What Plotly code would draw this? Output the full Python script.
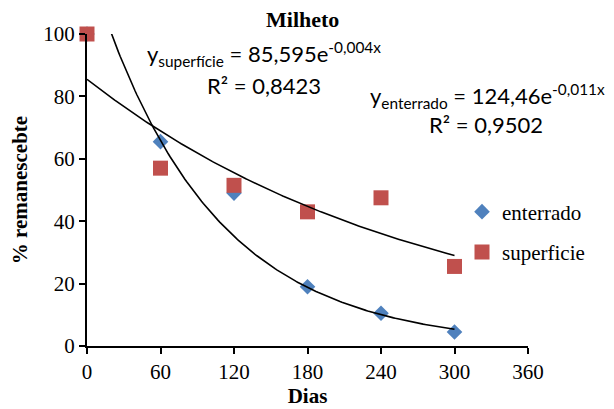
import numpy as np
import plotly.graph_objects as go

dias = [0, 60, 120, 180, 240, 300]
enterrado = [100, 65.5, 49, 19, 10.5, 4.5]
superficie = [100, 57, 51.5, 43, 47.5, 25.5]
x_ticks = [0, 60, 120, 180, 240, 300, 360]
y_ticks = [0, 20, 40, 60, 80, 100]

BLUE = "#4F81BD"
RED = "#C0504D"
SERIF = "Liberation Serif"
EQF = "Lato"


def exp_fit(x, y):
    b, a = np.polyfit(np.array(x, float), np.log(np.array(y, float)), 1)
    return np.exp(a), b


xs = np.linspace(0, 300, 200)
fig = go.Figure()
fig.add_trace(go.Scatter(x=dias, y=enterrado, mode="markers", name="enterrado",
                         marker=dict(symbol="diamond", size=12, color=BLUE),
                         cliponaxis=False, legendgroup="a"))
fig.add_trace(go.Scatter(x=dias, y=superficie, mode="markers", name="superficie",
                         marker=dict(symbol="square", size=15, color=RED),
                         cliponaxis=False, legendgroup="b"))
for ser in (enterrado, superficie):
    a, b = exp_fit(dias, ser)
    fig.add_trace(go.Scatter(x=xs, y=a * np.exp(b * xs), mode="lines",
                             line=dict(color="black", width=1.6),
                             showlegend=False, hoverinfo="skip"))

# page body has an 8px margin; figure is sized to fit the 614x409 window
OFF = 8
FW, FH = 614 - OFF, 409 - OFF
L, T, W, H = 87 - OFF, 34 - OFF, 441, 312


def px(x):
    return (x - OFF - L) / W


def py(y):
    return (T + H - (y - OFF)) / H


ann = [
    ("<b>Milheto</b>", 302, 20, SERIF, 22),
    ("y<sub>superfície</sub> = 85,595e<sup>-0,004x</sup>", 264, 54, EQF, 22),
    ("R² = 0,8423", 264, 85, EQF, 22),
    ("y<sub>enterrado</sub> = 124,46e<sup>-0,011x</sup>", 487, 96, EQF, 22),
    ("R² = 0,9502", 486, 125, EQF, 22),
]
for text, x, y, f, s in ann:
    fig.add_annotation(text=text, x=px(x), y=py(y), xref="paper", yref="paper",
                       showarrow=False, xanchor="center", yanchor="middle",
                       font=dict(family=f, size=s, color="black"))

axis_common = dict(showgrid=False, zeroline=False, showline=True, linecolor="black",
                   linewidth=2, ticks="outside", ticklen=6, tickwidth=2, tickcolor="black",
                   automargin=False,
                   tickfont=dict(family=SERIF, size=21, color="black"))
fig.update_xaxes(range=[0, 360], tickvals=x_ticks, **axis_common,
                 title=dict(text="<b>Dias</b>", font=dict(family=SERIF, size=21, color="black"),
                            standoff=0))
fig.update_yaxes(range=[0, 100], tickvals=y_ticks, **axis_common,
                 title=dict(text="<b>% remanescebte</b>",
                            font=dict(family=SERIF, size=21, color="black"), standoff=13))

fig.update_layout(
    width=FW, height=FH,
    margin=dict(l=L, r=FW - L - W, t=T, b=FH - T - H),
    plot_bgcolor="white", paper_bgcolor="white",
    showlegend=True,
    legend=dict(x=px(462), y=py(232), xanchor="left", yanchor="middle",
                font=dict(family=SERIF, size=21, color="black"),
                traceorder="grouped", tracegroupgap=10, bgcolor="rgba(0,0,0,0)"),
)
fig.write_html("out.html")
